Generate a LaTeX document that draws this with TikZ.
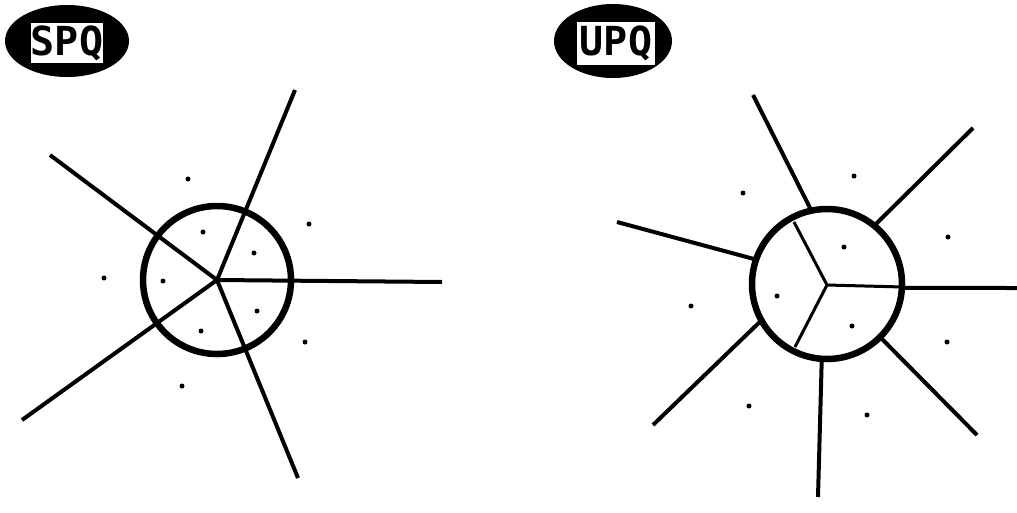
\documentclass[tikz,border=0pt]{standalone}
\usepackage{fontspec}
\newfontfamily\tagfont{DejaVu Sans Mono}
\usetikzlibrary{shapes.geometric}
\tikzset{
  tag/.style={ellipse,fill=black,minimum width=124pt,minimum height=72pt,inner sep=0pt},
  tagbox/.style={fill=white,minimum width=72pt,minimum height=40pt,inner sep=0pt,
    font=\tagfont\bfseries\fontsize{40}{42}\selectfont},
  ray/.style={line width=4pt},
  thinray/.style={line width=3pt},
  rim/.style={line width=6.5pt},
}
\begin{document}
\begin{tikzpicture}[x=1pt,y=-1pt]
\useasboundingbox (0,0) rectangle (1017,512);
% SPQ
\node[tag] (spqtag) at (67,41) {};
\node[tagbox] (spq) at (67,43) {SPQ};
\coordinate (sc) at (217,280);
\draw[rim] (sc) circle (74pt);
\coordinate (s1) at (295,90);
\coordinate (s2) at (50,155);
\coordinate (s3) at (442,282);
\coordinate (s4) at (22,420);
\coordinate (s5) at (298,478);
\foreach \e in {s1,s2,s3,s4,s5}
  \draw[ray] (sc) -- (\e);
\foreach \p in {(188,179),(309,224),(203,232),(254,253),(104,278),
                (163,281),(257,311),(201,331),(305,342),(182,386)}
  \fill \p circle (2.5pt);
% UPQ
\node[tag,minimum width=118pt,minimum height=74pt] (upqtag) at (613,41) {};
\node[tagbox,minimum width=78pt,minimum height=43pt] (upq) at (616,43) {UPQ};
\coordinate (rc) at (827,284);
\coordinate (rv) at (827,285);
\draw[rim] (rc) circle (75pt);
\draw[thinray] (rv) -- (794,222);
\draw[thinray] (rv) -- (903,287);
\draw[thinray] (rv) -- (795,347);
\coordinate (r1) at (753,95);
\coordinate (r2) at (973,128);
\coordinate (r3) at (1017,288);
\coordinate (r4) at (977,435);
\coordinate (r5) at (818,497);
\coordinate (r6) at (653,425);
\coordinate (r7) at (617,222);
\draw[ray] (rc) ++(102:75pt) -- (r1);
\draw[ray] (rc) ++(51:75pt) -- (r2);
\draw[ray] (rc) ++(-3:75pt) -- (r3);
\draw[ray] (rc) ++(-45:75pt) -- (r4);
\draw[ray] (rc) ++(-94:75pt) -- (r5);
\draw[ray] (rc) ++(-151:75pt) -- (r6);
\draw[ray] (rc) ++(161:75pt) -- (r7);
\foreach \p in {(743,193),(854,176),(948,237),(844,247),(691,306),
                (777,296),(852,326),(947,342),(749,406),(867,415)}
  \fill \p circle (2.5pt);
\end{tikzpicture}
\end{document}
